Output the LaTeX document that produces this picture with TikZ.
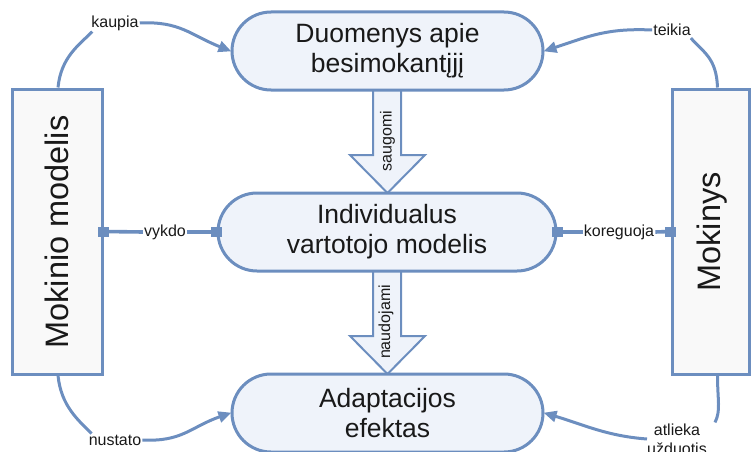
\documentclass[tikz,border=0pt]{standalone}
\usepackage{fontspec}
\setmainfont{Liberation Sans}
\usetikzlibrary{shapes.misc,arrows.meta,calc}
\definecolor{bord}{RGB}{108,142,191}
\definecolor{stadfill}{RGB}{239,243,250}
\definecolor{rectfill}{RGB}{249,249,249}
\definecolor{txt}{RGB}{25,25,25}
\tikzset{
  x=1pt,y=-1pt,
  stad/.style={rounded rectangle, draw=bord, fill=stadfill, line width=3pt, inner sep=0pt,
    minimum height=78pt, text=txt, align=center, font=\fontsize{26.5}{30}\selectfont},
  side/.style={rectangle, draw=bord, fill=rectfill, line width=3pt, inner sep=0pt, text=txt},
  lbl/.style={inner sep=1pt, text=txt, font=\fontsize{16}{19}\selectfont},
  conn/.style={draw=bord, line width=3pt},
  hconn/.style={draw=bord, line width=3.6pt},
  arr/.style={conn, -{Triangle[length=13pt,width=11pt]}, shorten >=-1pt},
  hollow/.style={draw=bord, fill=stadfill, line width=2pt, line join=miter},
  sq/.style={rectangle, fill=bord, minimum width=11pt, minimum height=10pt, inner sep=0pt}
}
\begin{document}
\begin{tikzpicture}
\useasboundingbox (0,0) rectangle (755,452);
% side boxes
\node[side, minimum width=90pt, minimum height=285pt] (Lm) at (57,231.5) {};
\node[rotate=90, text=txt, font=\fontsize{32.5}{36}\selectfont] (Ltxt) at (57,232) {Mokinio modelis};
\node[side, minimum width=77pt, minimum height=285pt] (Rm) at (710.5,231.5) {};
\node[rotate=90, text=txt, font=\fontsize{32.5}{36}\selectfont] (Rtxt) at (712,232) {Mokinys};
% hollow arrows
\draw[hollow] (373,89) -- (373,155) -- (350,155) -- (387.5,193) -- (425,155) -- (401,155) -- (401,89);
\draw[hollow] (373,271) -- (373,336) -- (350,336) -- (387.5,374) -- (425,336) -- (401,336) -- (401,271);
% stadiums
\node[stad, minimum width=311pt] (top) at (387.5,51) {Duomenys apie\\besimokantįjį};
\node[stad, minimum width=338pt] (mid) at (387,232) {Individualus\\vartotojo modelis};
\node[stad, minimum width=311pt] (bot) at (387.5,413) {Adaptacijos\\efektas};
% arrow labels
\node[lbl, rotate=90] (saug) at (387.5,141) {saugomi};
\node[lbl, rotate=90] (naud) at (386,322) {naudojami};
% straight connectors
\node[lbl, fill=white] (vykdo) at (165,232) {vykdo};
\node[lbl, fill=white] (kor) at (619,232) {koreguoja};
\draw[hconn] (Lm.east) -- (vykdo.west);
\draw[hconn] (vykdo.east) -- (mid.west);
\draw[hconn] (mid.east) -- (kor.west);
\draw[hconn] (kor.east) -- (Rm.west);
\node[sq] (s1) at (Lm.east) {};
\node[sq] (s2) at (mid.west) {};
\node[sq] (s3) at (mid.east) {};
\node[sq] (s4) at (Rm.west) {};
% curved connectors
\node[lbl] (kaupia) at (115,23) {kaupia};
\node[lbl] (teikia) at (672,30) {teikia};
\node[lbl] (nustato) at (115,440) {nustato};
\node[lbl, align=center, font=\fontsize{16}{19}\selectfont] (atl) at (677,439) {atlieka\\užduotis};
\coordinate (k0) at ($(Lm.north)+(1,0)$);
\coordinate (t0) at ($(Rm.north)+(7,0)$);
\coordinate (n0) at ($(Lm.south)+(1,0)$);
\coordinate (a0) at ($(Rm.south)+(7,0)$);
\draw[conn] (k0) .. controls +(3,-30) and +(-14,14) .. ($(kaupia.south west)+(2,0)$);
\draw[arr] (kaupia.east) .. controls +(40,-2) and +(-40,-16) .. (top.west);
\draw[conn] (t0) .. controls +(-1,-30) and +(12,14) .. ($(teikia.south east)+(-1,1)$);
\draw[arr] (teikia.west) .. controls +(-45,-2) and +(45,-15) .. (top.east);
\draw[conn] (n0) .. controls +(3,30) and +(-14,-14) .. ($(nustato.north west)+(4,0)$);
\draw[arr] (nustato.east) .. controls +(40,2) and +(-40,14) .. (bot.west);
\draw[conn] (a0) .. controls +(0,25) and +(6,-12) .. ($(atl.north east)+(7,0)$);
\draw[arr] ($(atl.west)+(1,0)$) .. controls +(-40,-3) and +(40,12) .. (bot.east);
\end{tikzpicture}
\end{document}
